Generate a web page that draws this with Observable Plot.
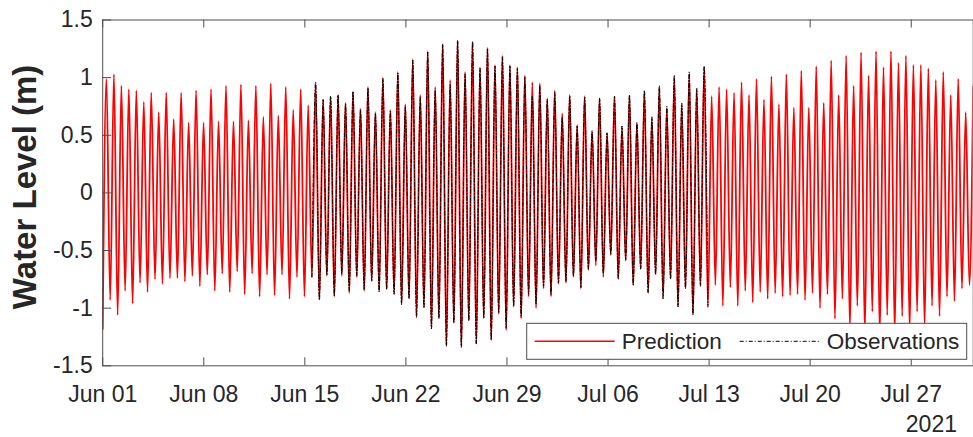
<!DOCTYPE html>
<html><head><meta charset="utf-8">
<script src="https://cdn.jsdelivr.net/npm/d3@7"></script>
<script src="https://cdn.jsdelivr.net/npm/@observablehq/plot@0.6"></script>
<style>
body{margin:0;background:#fff;}
#chart{width:973px;height:437px;overflow:hidden;}
</style></head><body><div id="chart"></div>
<script>
// ---- data ----
const seriesStart = "2021-06-01T00:00:00Z";   // first low water
const tidalPeriodHours = 12.42;                // spacing of successive highs (or lows)
const xDomain = ["2021-06-01T00:00:00Z", "2021-07-31T07:00:00Z"];
const xTickDates = ["2021-06-01","2021-06-08","2021-06-15","2021-06-22","2021-06-29","2021-07-06","2021-07-13","2021-07-20","2021-07-27"];
const xTickLabels = ["Jun 01","Jun 08","Jun 15","Jun 22","Jun 29","Jul 06","Jul 13","Jul 20","Jul 27"];
const yTicks = [-1.5,-1,-0.5,0,0.5,1,1.5];
const yTickLabels = ["-1.5","-1","-0.5","0","0.5","1","1.5"];
const yearLabel = "2021";
const yLabel = "Water Level (m)";
const seriesNames = ["Prediction","Observations"];

// predicted low waters, one per tidal cycle (cycle 0 .. 116)
const predLow = [
-1.18,-0.93,-1.06,-0.85,-0.96,-0.78,-0.86,-0.75,-0.79,-0.74,
-0.74,-0.77,-0.72,-0.81,-0.71,-0.85,-0.70,-0.86,-0.68,-0.88,
-0.70,-0.90,-0.71,-0.89,-0.71,-0.92,-0.73,-0.90,-0.73,-0.92,
-0.72,-0.90,-0.72,-0.87,-0.73,-0.85,-0.77,-0.85,-0.83,-0.87,
-0.95,-0.91,-1.06,-0.98,-1.16,-1.08,-1.32,-1.12,-1.33,-1.10,
-1.31,-1.09,-1.28,-1.05,-1.19,-0.99,-1.09,-0.90,-1.00,-0.83,
-0.90,-0.79,-0.78,-0.73,-0.83,-0.67,-0.63,-0.73,-0.54,-0.75,
-0.59,-0.80,-0.66,-0.86,-0.70,-0.90,-0.74,-0.98,-0.82,-1.05,
-0.80,-0.98,-0.80,-0.98,-0.82,-0.98,-0.85,-0.95,-0.86,-0.92,
-0.87,-0.90,-0.89,-0.88,-0.93,-0.87,-1.00,-0.88,-1.09,-0.92,
-1.18,-0.98,-1.22,-1.03,-1.24,-1.06,-1.22,-1.07,-1.20,-1.03,
-1.16,-0.98,-1.07,-0.90,-0.94,-0.83,-0.80];
// predicted high waters (half a cycle after each low)
const predHigh = [
0.99,1.03,0.93,0.90,0.89,0.79,0.87,0.70,0.87,0.64,
0.87,0.61,0.89,0.61,0.90,0.62,0.93,0.62,0.94,0.63,
0.93,0.66,0.95,0.67,0.92,0.72,0.90,0.76,0.94,0.81,
0.83,0.85,0.78,0.88,0.73,0.92,0.70,1.00,0.72,1.05,
0.77,1.16,0.85,1.23,0.92,1.29,0.98,1.32,1.05,1.31,
1.09,1.26,1.11,1.19,1.11,1.09,1.02,0.96,0.95,0.82,
0.89,0.69,0.85,0.59,0.84,0.54,0.82,0.52,0.83,0.57,
0.84,0.60,0.87,0.64,0.91,0.73,1.00,0.76,1.03,0.89,
1.09,0.84,0.92,0.90,0.87,0.96,0.85,0.99,0.81,1.01,
0.77,1.03,0.74,1.06,0.74,1.10,0.78,1.15,0.85,1.19,
0.93,1.22,1.02,1.23,1.09,1.23,1.13,1.19,1.11,1.11,
1.08,0.98,1.05,0.85,0.99,0.70,0.92];

// observations start at tidal cycle 28 (mid-June) and stop at cycle 81 (Jul 13)
const obsFirstCycle = 28;
const obsLow = [
-0.73,-0.93,-0.71,-0.89,-0.70,-0.85,-0.72,-0.84,-0.76,-0.86,
-0.84,-0.88,-0.97,-0.92,-1.08,-1.00,-1.18,-1.09,-1.33,-1.13,
-1.34,-1.11,-1.31,-1.08,-1.27,-1.04,-1.17,-0.98,-1.07,-0.88,
-0.97,-0.81,-0.88,-0.78,-0.77,-0.72,-0.82,-0.66,-0.59,-0.70,
-0.53,-0.74,-0.58,-0.80,-0.66,-0.87,-0.71,-0.92,-0.75,-0.99,
-0.83,-1.06,-0.81,-0.99];
const obsHigh = [
0.96,0.81,0.84,0.85,0.77,0.88,0.72,0.91,0.69,0.99,
0.71,1.04,0.75,1.15,0.83,1.22,0.89,1.29,0.94,1.32,
1.03,1.31,1.08,1.25,1.10,1.18,1.10,1.08,1.00,0.84,
0.93,0.81,0.87,0.66,0.84,0.58,0.83,0.53,0.82,0.52,
0.84,0.58,0.85,0.61,0.89,0.66,0.93,0.75,1.02,0.78,
1.05,0.91,1.10];

// ---- build tables ----
const t0 = Date.parse(seriesStart), P = tidalPeriodHours * 3600e3;
function build(lows, highs, firstCycle) {
  const out = [];
  for (let i = 0; i < lows.length; i++) {
    out.push({t: new Date(t0 + (firstCycle + i) * P), v: lows[i]});
    if (i < highs.length) out.push({t: new Date(t0 + (firstCycle + i + 0.5) * P), v: highs[i]});
  }
  return out;
}
const pred = build(predLow, predHigh, 0);
const obs = build(obsLow, obsHigh, obsFirstCycle);

// ---- layout ----
const W = 973, H = 437, mL = 102.2, mR = 0.3, mT = 19.5, mB = 71.7;
const plotW = W - mL - mR, plotH = H - mT - mB;
const axisColor = "#4d4d4d", textColor = "#262626";
const font = "'Liberation Sans', Arial, Helvetica, sans-serif";
const tickDates = xTickDates.map(d => new Date(d + "T00:00:00Z"));

const chart = Plot.plot({
  width: W, height: H,
  marginLeft: mL, marginRight: mR, marginTop: mT, marginBottom: mB,
  style: {fontFamily: font, fontSize: "23px", color: textColor, background: "white", overflow: "visible"},
  x: {type: "utc", domain: xDomain.map(d => new Date(d)), ticks: tickDates,
      tickFormat: d => xTickLabels[tickDates.findIndex(e => +e === +d)],
      tickSize: 0, tickPadding: 20, label: null},
  y: {domain: [-1.5, 1.5], ticks: yTicks,
      tickFormat: d => yTickLabels[yTicks.indexOf(d)],
      tickSize: 0, tickPadding: 10, label: null},
  marks: [
    Plot.line(pred, {x: "t", y: "v", stroke: "#ff0000", strokeWidth: 1.8, curve: "monotone-x", clip: true}),
    Plot.line(obs, {x: "t", y: "v", stroke: "#000000", strokeWidth: 1, strokeDasharray: "4,2,1,2", curve: "monotone-x", clip: true}),
    Plot.tickY(yTicks, {y: d => d, stroke: axisColor, insetRight: plotW - 9}),
    Plot.tickX(tickDates, {x: d => d, stroke: axisColor, insetTop: plotH - 8}),
    Plot.tickX(tickDates, {x: d => d, stroke: axisColor, insetBottom: plotH - 8}),
    Plot.frame({stroke: axisColor, strokeWidth: 1}),
    Plot.text([yLabel], {text: d => d, frameAnchor: "left", textAnchor: "middle", lineAnchor: "middle",
      dx: -77, dy: -6, rotate: -90, fontSize: 33, fontWeight: "bold", fill: textColor})
  ]
});
document.getElementById("chart").appendChild(chart);

// ---- legend (inside the axes, south-east) and year label ----
const svg = d3.select(chart);
const lgRight = W - mR - 6, lgBottom = H - mB - 6, lgW = 440, lgH = 36;
const lgX = lgRight - lgW, lgY = lgBottom - lgH, midY = lgY + lgH / 2;
const lg = svg.append("g").attr("font-family", font).attr("font-size", 22.5)
  .attr("fill", textColor).attr("text-anchor", "start");
lg.append("rect").attr("x", lgX).attr("y", lgY).attr("width", lgW).attr("height", lgH)
  .attr("fill", "white").attr("stroke", axisColor).attr("stroke-width", 1);
lg.append("line").attr("x1", lgX + 8).attr("x2", lgX + 88).attr("y1", midY).attr("y2", midY)
  .attr("stroke", "#ff0000").attr("stroke-width", 1.5);
lg.append("text").attr("x", lgX + 95).attr("y", midY + 8).attr("text-anchor", "start").text(seriesNames[0]);
lg.append("line").attr("x1", lgX + 213).attr("x2", lgX + 293).attr("y1", midY).attr("y2", midY)
  .attr("stroke", "#000").attr("stroke-width", 1).attr("stroke-dasharray", "4,2,1,2");
lg.append("text").attr("x", lgX + 300).attr("y", midY + 8).attr("text-anchor", "start").text(seriesNames[1]);
svg.append("text").attr("x", W - 16).attr("y", H - 5).attr("text-anchor", "end")
  .attr("font-family", font).attr("font-size", 23).attr("fill", textColor).text(yearLabel);
</script></body></html>
